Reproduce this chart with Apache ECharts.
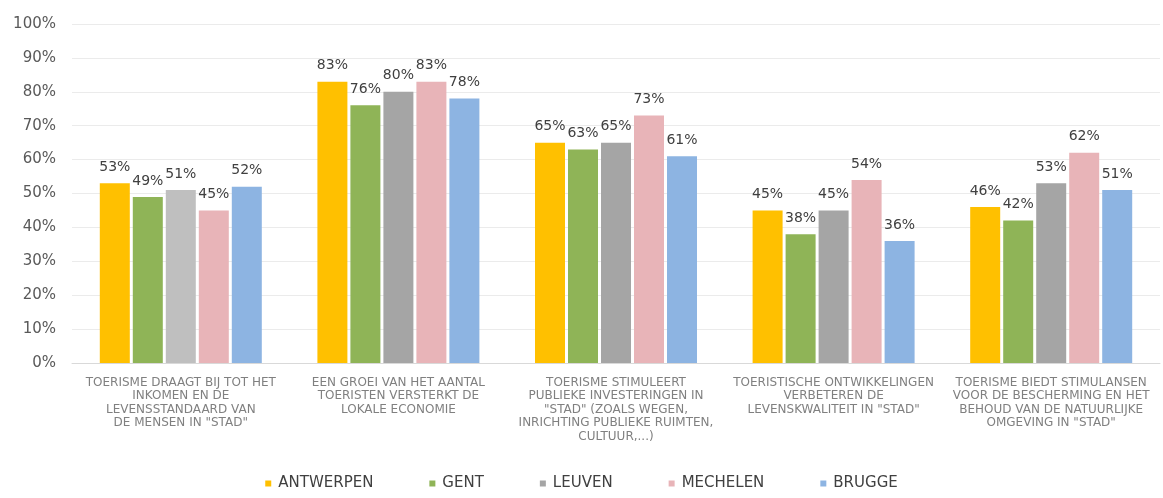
<!DOCTYPE html>
<html>
<head>
<meta charset="utf-8">
<script src="https://cdn.jsdelivr.net/npm/echarts@6/dist/echarts.min.js"></script>
<style>
  html, body { margin: 0; padding: 0; background: #fff; }
  #chart { width: 1163px; height: 498px; }
</style>
</head>
<body>
<div id="chart"></div>
<script>
  var categories = [
    'TOERISME DRAAGT BIJ TOT HET\nINKOMEN EN DE\nLEVENSSTANDAARD VAN\nDE MENSEN IN "STAD"',
    'EEN GROEI VAN HET AANTAL\nTOERISTEN VERSTERKT DE\nLOKALE ECONOMIE',
    'TOERISME STIMULEERT\nPUBLIEKE INVESTERINGEN IN\n"STAD" (ZOALS WEGEN,\nINRICHTING PUBLIEKE RUIMTEN,\nCULTUUR,...)',
    'TOERISTISCHE ONTWIKKELINGEN\nVERBETEREN DE\nLEVENSKWALITEIT IN "STAD"',
    'TOERISME BIEDT STIMULANSEN\nVOOR DE BESCHERMING EN HET\nBEHOUD VAN DE NATUURLIJKE\nOMGEVING IN "STAD"'
  ];
  var cities = ['ANTWERPEN', 'GENT', 'LEUVEN', 'MECHELEN', 'BRUGGE'];
  var antwerpen = [53, 83, 65, 45, 46];
  var gent = [49, 76, 63, 38, 42];
  var leuven = [51, 80, 65, 45, 53];
  var mechelen = [45, 83, 73, 54, 62];
  var brugge = [52, 78, 61, 36, 51];
  var colors = ['#FFC000', '#8FB457', '#A5A5A5', '#E8B4B8', '#8DB4E2'];

  var values = [antwerpen, gent, leuven, mechelen, brugge];

  var myChart = echarts.init(document.getElementById('chart'));

  var series = cities.map(function (name, i) {
    return {
      name: name,
      type: 'bar',
      barWidth: 30,
      barGap: '10%',
      itemStyle: { color: colors[i] },
      label: {
        show: true,
        position: 'top',
        distance: 9,
        formatter: '{c}%',
        color: '#404040',
        fontFamily: 'DejaVu Sans',
        fontSize: 14
      },
      data: values[i].map(function (v, j) {
        // first Leuven bar is lighter grey in the original
        if (i == 2 && j == 0) {
          return { value: v, itemStyle: { color: '#BFBFBF' } };
        }
        return v;
      })
    };
  });

  myChart.setOption({
    animation: false,
    color: colors,
    grid: { left: 72, right: 3, top: 24, bottom: 135 },
    legend: {
      bottom: 2,
      left: 'center',
      itemWidth: 6,
      itemHeight: 6,
      itemGap: 56,
      icon: 'rect',
      textStyle: { color: '#404040', fontFamily: 'DejaVu Sans', fontSize: 15, padding: [0, 0, 0, 2] },
      data: cities
    },
    xAxis: {
      type: 'category',
      data: categories,
      axisTick: { show: false },
      axisLine: { lineStyle: { color: '#D9D9D9' } },
      axisLabel: {
        interval: 0,
        margin: 13,
        color: '#808080',
        fontFamily: 'DejaVu Sans',
        fontSize: 12,
        lineHeight: 13.5
      }
    },
    yAxis: {
      type: 'value',
      min: 0,
      max: 100,
      interval: 10,
      axisLabel: {
        formatter: '{value}%',
        color: '#595959',
        fontFamily: 'DejaVu Sans',
        fontSize: 15,
        margin: 16
      },
      splitLine: { lineStyle: { color: '#EBEBEB' } },
      axisLine: { show: false },
      axisTick: { show: false }
    },
    series: series
  });
</script>
</body>
</html>
